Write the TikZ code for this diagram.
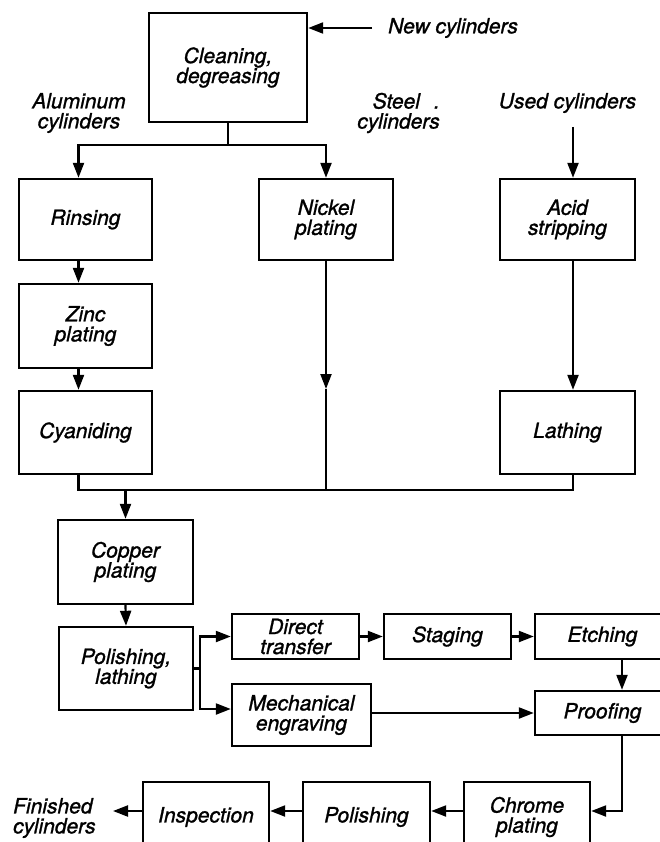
\documentclass[tikz,border=0pt]{standalone}
\usepackage{fontspec}
\setmainfont{TeX Gyre Heros}[ItalicFeatures={FakeBold=1.2}]
\usetikzlibrary{arrows.meta}
\newcommand{\flowfont}{\fontsize{21}{20}\selectfont\itshape}
\begin{document}
\begin{tikzpicture}[x=1pt,y=-1pt,
  box/.style={draw, line width=2.4pt, inner sep=0pt, align=center, font=\flowfont, line join=miter},
  wh/.style 2 args={minimum width=#1pt, minimum height=#2pt},
  lab/.style={inner sep=0pt, font=\flowfont},
  conn/.style={line width=2.2pt, line join=miter},
  arr/.style={conn, -{Triangle[length=15pt,width=11pt]}},
]
\useasboundingbox (0,0) rectangle (660,842);
\clip (0,0) rectangle (660,842);

% boxes
\node[box, wh={158}{109}] (clean)   at (228,67.5)  {Cleaning,\\degreasing};
\node[box, wh={133}{81}]  (rinse)   at (85.5,219.5) {Rinsing};
\node[box, wh={134}{81}]  (nickel)  at (326,219.5) {Nickel\\plating};
\node[box, wh={135}{81}]  (acid)    at (567.5,219.5) {Acid\\stripping};
\node[box, wh={133}{84}]  (zinc)    at (85.5,326)  {Zinc\\plating};
\node[box, wh={133}{83}]  (cyan)    at (85.5,432.5) {Cyaniding};
\node[box, wh={135}{83}]  (lath)    at (567.5,432.5) {Lathing};
\node[box, wh={135}{84}]  (copper)  at (125.5,562) {Copper\\plating};
\node[box, wh={134}{83}]  (polish1) at (126,668.5) {Polishing,\\lathing};
\node[box, wh={127}{45}]  (direct)  at (295.5,636.5) {Direct\\transfer};
\node[box, wh={127}{45}]  (staging) at (447.5,636.5) {Staging};
\node[box, wh={135}{45}]  (etch)    at (602.5,636.5) {Etching};
\node[box, wh={139}{62}]  (mech)    at (301.5,715) {Mechanical\\engraving};
\node[box, wh={135}{44}]  (proof)   at (602.5,713) {Proofing};
\node[box, wh={126}{70}]  (chrome)  at (527,817) {Chrome\\plating};
\node[box, wh={127}{70}]  (polish2) at (366.5,817) {Polishing};
\node[box, wh={126}{70}]  (insp)    at (206,817) {Inspection};

% labels
\node[lab, anchor=west] (newlbl) at (388,28) {New cylinders};
\node[lab, align=center] (alu) at (79,113) {Aluminum\\cylinders};
\node[lab, align=right, anchor=east] (steel) at (440,113) {Steel\hspace{14pt}.\\cylinders};
\node[lab] (used) at (567.5,103) {Used cylinders};
\node[lab, align=left, anchor=west] (fin) at (13,818) {Finished\\cylinders};

% helper coordinates
\coordinate (newstart) at (372,28);
\coordinate (usedx) at (573,127);
\coordinate (px) at (622,0);
\coordinate (rowy) at (0,811);
\coordinate (finend) at (113,811);

% connectors
\draw[arr] (newstart) -- (clean.east |- newstart);
\draw[conn] (clean.south) -- (228,145) coordinate (split);
\draw[arr] (split) -| ([xshift=-7pt]rinse.north);
\draw[arr] (split) -| (nickel.north);
\draw[arr] ([xshift=-7pt]rinse.south) -- ([xshift=-7pt]zinc.north);
\draw[arr] ([xshift=-7pt]zinc.south) -- ([xshift=-7pt]cyan.north);
\draw[arr] (usedx) -- (acid.north -| usedx);
\draw[arr] (acid.south -| usedx) -- (lath.north -| usedx);
\draw[arr] (nickel.south) -- (326,389) coordinate (nmid);
\draw[conn] (nmid) -- (326,489);
\draw[conn] ([xshift=-7pt]cyan.south) -- ++(0,15) coordinate (m1) -- (m1 -| usedx) -- (lath.south -| usedx);
\draw[arr] (m1 -| copper.north) -- (copper.north);
\draw[arr] (copper.south) -- (polish1.north);
\draw[conn] (polish1.east) -- ++(6,0) coordinate (b);
\draw[arr] (b) |- (direct.west);
\draw[arr] (b) |- ([yshift=6pt]mech.west);
\draw[arr] (direct.east) -- (staging.west);
\draw[arr] (staging.east) -- (etch.west);
\draw[arr] (etch.south -| px) -- (proof.north -| px);
\draw[arr] (mech.east |- proof.west) -- (proof.west);
\draw[arr] (proof.south -| px) |- (chrome.east |- rowy);
\draw[arr] (chrome.west |- rowy) -- (polish2.east |- rowy);
\draw[arr] (polish2.west |- rowy) -- (insp.east |- rowy);
\draw[arr] (insp.west |- rowy) -- (finend);
\end{tikzpicture}
\end{document}
